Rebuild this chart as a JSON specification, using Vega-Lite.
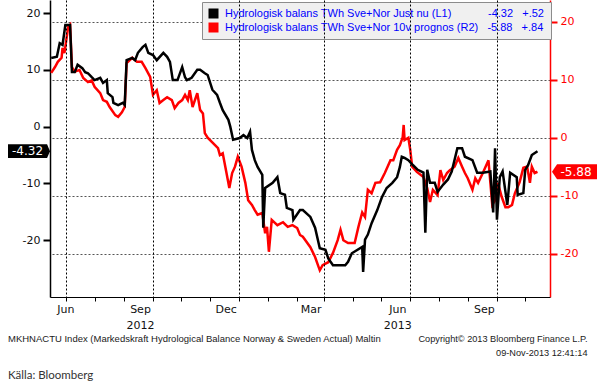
{
  "$schema": "https://vega.github.io/schema/vega-lite/v6.json",
  "width": 500,
  "height": 297,
  "autosize": {"type": "none"},
  "padding": {"left": 50, "top": 0, "right": 47, "bottom": 84},
  "background": "#ffffff",
  "title": {
    "text": "MKHNACTU Index (Markedskraft Hydrological Balance Norway & Sweden Actual) Maltin",
    "subtitle": "Källa: Bloomberg",
    "orient": "bottom",
    "anchor": "start",
    "frame": "group",
    "offset": -23,
    "dx": -42,
    "font": "Liberation Sans",
    "fontSize": 9.5,
    "fontWeight": "normal",
    "color": "#1a1a1a",
    "subtitleFont": "Lato",
    "subtitleFontSize": 11.5,
    "subtitleColor": "#333333",
    "subtitlePadding": 26
  },
  "datasets": {
    "lines": [
      {"date": "2012-05-16", "series": "L1", "value": 12.1},
      {"date": "2012-05-22", "series": "L1", "value": 12.3},
      {"date": "2012-05-25", "series": "L1", "value": 14.7},
      {"date": "2012-05-28", "series": "L1", "value": 14.4},
      {"date": "2012-05-31", "series": "L1", "value": 17.9},
      {"date": "2012-06-05", "series": "L1", "value": 17.9},
      {"date": "2012-06-07", "series": "L1", "value": 9.6},
      {"date": "2012-06-10", "series": "L1", "value": 9.6},
      {"date": "2012-06-13", "series": "L1", "value": 10.9},
      {"date": "2012-06-18", "series": "L1", "value": 10.3},
      {"date": "2012-06-21", "series": "L1", "value": 9.6},
      {"date": "2012-06-24", "series": "L1", "value": 9.4},
      {"date": "2012-06-28", "series": "L1", "value": 8.7},
      {"date": "2012-07-01", "series": "L1", "value": 8.2},
      {"date": "2012-07-07", "series": "L1", "value": 8.6},
      {"date": "2012-07-10", "series": "L1", "value": 7.7},
      {"date": "2012-07-14", "series": "L1", "value": 8.2},
      {"date": "2012-07-15", "series": "L1", "value": 5.9},
      {"date": "2012-07-20", "series": "L1", "value": 5.2},
      {"date": "2012-07-21", "series": "L1", "value": 4.2},
      {"date": "2012-07-26", "series": "L1", "value": 3.8},
      {"date": "2012-07-31", "series": "L1", "value": 4.2},
      {"date": "2012-08-02", "series": "L1", "value": 3.8},
      {"date": "2012-08-04", "series": "L1", "value": 11.7},
      {"date": "2012-08-10", "series": "L1", "value": 12.1},
      {"date": "2012-08-13", "series": "L1", "value": 11.7},
      {"date": "2012-08-16", "series": "L1", "value": 13.0},
      {"date": "2012-08-21", "series": "L1", "value": 14.0},
      {"date": "2012-08-24", "series": "L1", "value": 14.4},
      {"date": "2012-08-27", "series": "L1", "value": 13.0},
      {"date": "2012-09-01", "series": "L1", "value": 12.6},
      {"date": "2012-09-05", "series": "L1", "value": 11.7},
      {"date": "2012-09-12", "series": "L1", "value": 13.0},
      {"date": "2012-09-16", "series": "L1", "value": 12.3},
      {"date": "2012-09-19", "series": "L1", "value": 11.4},
      {"date": "2012-09-22", "series": "L1", "value": 8.2},
      {"date": "2012-09-27", "series": "L1", "value": 8.2},
      {"date": "2012-10-02", "series": "L1", "value": 10.5},
      {"date": "2012-10-05", "series": "L1", "value": 8.7},
      {"date": "2012-10-07", "series": "L1", "value": 8.2},
      {"date": "2012-10-12", "series": "L1", "value": 8.6},
      {"date": "2012-10-18", "series": "L1", "value": 10.0},
      {"date": "2012-10-21", "series": "L1", "value": 10.0},
      {"date": "2012-10-26", "series": "L1", "value": 9.4},
      {"date": "2012-10-29", "series": "L1", "value": 9.1},
      {"date": "2012-11-03", "series": "L1", "value": 6.5},
      {"date": "2012-11-08", "series": "L1", "value": 5.6},
      {"date": "2012-11-11", "series": "L1", "value": 4.2},
      {"date": "2012-11-14", "series": "L1", "value": 2.9},
      {"date": "2012-11-20", "series": "L1", "value": 1.2},
      {"date": "2012-11-22", "series": "L1", "value": 0.0},
      {"date": "2012-11-25", "series": "L1", "value": -2.3},
      {"date": "2012-12-02", "series": "L1", "value": -2.0},
      {"date": "2012-12-06", "series": "L1", "value": -1.5},
      {"date": "2012-12-10", "series": "L1", "value": -2.0},
      {"date": "2012-12-13", "series": "L1", "value": -0.9},
      {"date": "2012-12-15", "series": "L1", "value": -4.1},
      {"date": "2012-12-18", "series": "L1", "value": -5.9},
      {"date": "2012-12-21", "series": "L1", "value": -7.1},
      {"date": "2012-12-26", "series": "L1", "value": -8.5},
      {"date": "2012-12-27", "series": "L1", "value": -17.8},
      {"date": "2012-12-29", "series": "L1", "value": -10.8},
      {"date": "2013-01-06", "series": "L1", "value": -9.9},
      {"date": "2013-01-11", "series": "L1", "value": -8.9},
      {"date": "2013-01-14", "series": "L1", "value": -11.7},
      {"date": "2013-01-19", "series": "L1", "value": -12.0},
      {"date": "2013-01-21", "series": "L1", "value": -14.3},
      {"date": "2013-01-27", "series": "L1", "value": -14.7},
      {"date": "2013-01-28", "series": "L1", "value": -16.4},
      {"date": "2013-02-04", "series": "L1", "value": -14.7},
      {"date": "2013-02-07", "series": "L1", "value": -14.7},
      {"date": "2013-02-15", "series": "L1", "value": -15.9},
      {"date": "2013-02-20", "series": "L1", "value": -17.8},
      {"date": "2013-02-25", "series": "L1", "value": -21.4},
      {"date": "2013-03-03", "series": "L1", "value": -21.7},
      {"date": "2013-03-06", "series": "L1", "value": -23.2},
      {"date": "2013-03-11", "series": "L1", "value": -24.4},
      {"date": "2013-03-24", "series": "L1", "value": -24.4},
      {"date": "2013-03-27", "series": "L1", "value": -23.8},
      {"date": "2013-03-31", "series": "L1", "value": -22.3},
      {"date": "2013-04-11", "series": "L1", "value": -21.2},
      {"date": "2013-04-12", "series": "L1", "value": -25.6},
      {"date": "2013-04-14", "series": "L1", "value": -19.9},
      {"date": "2013-04-17", "series": "L1", "value": -19.0},
      {"date": "2013-04-21", "series": "L1", "value": -17.0},
      {"date": "2013-04-27", "series": "L1", "value": -14.7},
      {"date": "2013-05-02", "series": "L1", "value": -12.4},
      {"date": "2013-05-07", "series": "L1", "value": -10.8},
      {"date": "2013-05-13", "series": "L1", "value": -9.9},
      {"date": "2013-05-18", "series": "L1", "value": -8.9},
      {"date": "2013-05-21", "series": "L1", "value": -7.1},
      {"date": "2013-05-23", "series": "L1", "value": -5.3},
      {"date": "2013-05-26", "series": "L1", "value": -5.5},
      {"date": "2013-05-30", "series": "L1", "value": -5.9},
      {"date": "2013-06-04", "series": "L1", "value": -6.8},
      {"date": "2013-06-09", "series": "L1", "value": -7.6},
      {"date": "2013-06-15", "series": "L1", "value": -8.1},
      {"date": "2013-06-17", "series": "L1", "value": -18.7},
      {"date": "2013-06-19", "series": "L1", "value": -7.6},
      {"date": "2013-06-22", "series": "L1", "value": -9.9},
      {"date": "2013-06-27", "series": "L1", "value": -9.9},
      {"date": "2013-06-30", "series": "L1", "value": -11.5},
      {"date": "2013-07-06", "series": "L1", "value": -10.2},
      {"date": "2013-07-11", "series": "L1", "value": -9.3},
      {"date": "2013-07-15", "series": "L1", "value": -7.9},
      {"date": "2013-07-21", "series": "L1", "value": -3.8},
      {"date": "2013-07-26", "series": "L1", "value": -3.8},
      {"date": "2013-07-29", "series": "L1", "value": -5.3},
      {"date": "2013-08-06", "series": "L1", "value": -5.9},
      {"date": "2013-08-11", "series": "L1", "value": -8.1},
      {"date": "2013-08-17", "series": "L1", "value": -8.1},
      {"date": "2013-08-25", "series": "L1", "value": -7.9},
      {"date": "2013-08-28", "series": "L1", "value": -15.1},
      {"date": "2013-08-30", "series": "L1", "value": -3.8},
      {"date": "2013-09-01", "series": "L1", "value": -16.4},
      {"date": "2013-09-04", "series": "L1", "value": -8.9},
      {"date": "2013-09-07", "series": "L1", "value": -7.9},
      {"date": "2013-09-12", "series": "L1", "value": -13.8},
      {"date": "2013-09-15", "series": "L1", "value": -8.1},
      {"date": "2013-09-22", "series": "L1", "value": -8.9},
      {"date": "2013-09-23", "series": "L1", "value": -12.0},
      {"date": "2013-09-29", "series": "L1", "value": -11.7},
      {"date": "2013-10-01", "series": "L1", "value": -7.6},
      {"date": "2013-10-04", "series": "L1", "value": -6.8},
      {"date": "2013-10-08", "series": "L1", "value": -5.0},
      {"date": "2013-10-14", "series": "L1", "value": -4.32},
      {"date": "2012-05-16", "series": "R2", "value": 11.2},
      {"date": "2012-05-20", "series": "R2", "value": 12.2},
      {"date": "2012-05-23", "series": "R2", "value": 13.1},
      {"date": "2012-05-27", "series": "R2", "value": 13.8},
      {"date": "2012-05-28", "series": "R2", "value": 15.5},
      {"date": "2012-05-30", "series": "R2", "value": 14.6},
      {"date": "2012-06-03", "series": "R2", "value": 19.1},
      {"date": "2012-06-05", "series": "R2", "value": 19.5},
      {"date": "2012-06-07", "series": "R2", "value": 12.2},
      {"date": "2012-06-10", "series": "R2", "value": 11.4},
      {"date": "2012-06-15", "series": "R2", "value": 11.7},
      {"date": "2012-06-19", "series": "R2", "value": 10.3},
      {"date": "2012-06-24", "series": "R2", "value": 9.6},
      {"date": "2012-06-28", "series": "R2", "value": 9.9},
      {"date": "2012-07-01", "series": "R2", "value": 8.8},
      {"date": "2012-07-07", "series": "R2", "value": 7.7},
      {"date": "2012-07-10", "series": "R2", "value": 6.5},
      {"date": "2012-07-14", "series": "R2", "value": 6.2},
      {"date": "2012-07-17", "series": "R2", "value": 5.3},
      {"date": "2012-07-23", "series": "R2", "value": 3.9},
      {"date": "2012-07-26", "series": "R2", "value": 3.6},
      {"date": "2012-07-30", "series": "R2", "value": 4.4},
      {"date": "2012-08-02", "series": "R2", "value": 5.3},
      {"date": "2012-08-04", "series": "R2", "value": 12.9},
      {"date": "2012-08-10", "series": "R2", "value": 13.8},
      {"date": "2012-08-15", "series": "R2", "value": 13.1},
      {"date": "2012-08-20", "series": "R2", "value": 13.1},
      {"date": "2012-08-24", "series": "R2", "value": 12.0},
      {"date": "2012-08-29", "series": "R2", "value": 10.5},
      {"date": "2012-09-01", "series": "R2", "value": 7.4},
      {"date": "2012-09-05", "series": "R2", "value": 8.2},
      {"date": "2012-09-08", "series": "R2", "value": 6.0},
      {"date": "2012-09-12", "series": "R2", "value": 6.5},
      {"date": "2012-09-16", "series": "R2", "value": 7.0},
      {"date": "2012-09-21", "series": "R2", "value": 6.5},
      {"date": "2012-09-24", "series": "R2", "value": 5.1},
      {"date": "2012-09-28", "series": "R2", "value": 6.0},
      {"date": "2012-10-02", "series": "R2", "value": 6.5},
      {"date": "2012-10-05", "series": "R2", "value": 7.4},
      {"date": "2012-10-08", "series": "R2", "value": 6.5},
      {"date": "2012-10-10", "series": "R2", "value": 8.2},
      {"date": "2012-10-13", "series": "R2", "value": 5.3},
      {"date": "2012-10-18", "series": "R2", "value": 7.7},
      {"date": "2012-10-21", "series": "R2", "value": 4.8},
      {"date": "2012-10-24", "series": "R2", "value": 4.2},
      {"date": "2012-10-26", "series": "R2", "value": 0.8},
      {"date": "2012-10-29", "series": "R2", "value": 0.0},
      {"date": "2012-11-04", "series": "R2", "value": -1.0},
      {"date": "2012-11-09", "series": "R2", "value": -1.8},
      {"date": "2012-11-11", "series": "R2", "value": -3.0},
      {"date": "2012-11-14", "series": "R2", "value": -2.7},
      {"date": "2012-11-18", "series": "R2", "value": -6.1},
      {"date": "2012-11-21", "series": "R2", "value": -8.7},
      {"date": "2012-11-24", "series": "R2", "value": -6.1},
      {"date": "2012-11-27", "series": "R2", "value": -5.0},
      {"date": "2012-11-30", "series": "R2", "value": -3.3},
      {"date": "2012-12-04", "series": "R2", "value": -5.0},
      {"date": "2012-12-08", "series": "R2", "value": -7.8},
      {"date": "2012-12-11", "series": "R2", "value": -10.8},
      {"date": "2012-12-15", "series": "R2", "value": -11.6},
      {"date": "2012-12-18", "series": "R2", "value": -12.5},
      {"date": "2012-12-21", "series": "R2", "value": -13.3},
      {"date": "2012-12-26", "series": "R2", "value": -13.0},
      {"date": "2012-12-29", "series": "R2", "value": -16.5},
      {"date": "2012-12-31", "series": "R2", "value": -15.4},
      {"date": "2013-01-02", "series": "R2", "value": -19.7},
      {"date": "2013-01-05", "series": "R2", "value": -14.2},
      {"date": "2013-01-11", "series": "R2", "value": -15.1},
      {"date": "2013-01-17", "series": "R2", "value": -14.6},
      {"date": "2013-01-22", "series": "R2", "value": -15.4},
      {"date": "2013-01-27", "series": "R2", "value": -15.1},
      {"date": "2013-02-01", "series": "R2", "value": -15.6},
      {"date": "2013-02-04", "series": "R2", "value": -16.8},
      {"date": "2013-02-07", "series": "R2", "value": -17.1},
      {"date": "2013-02-15", "series": "R2", "value": -18.9},
      {"date": "2013-02-20", "series": "R2", "value": -20.6},
      {"date": "2013-02-25", "series": "R2", "value": -22.9},
      {"date": "2013-02-28", "series": "R2", "value": -22.0},
      {"date": "2013-03-06", "series": "R2", "value": -21.5},
      {"date": "2013-03-11", "series": "R2", "value": -19.9},
      {"date": "2013-03-16", "series": "R2", "value": -17.7},
      {"date": "2013-03-19", "series": "R2", "value": -15.9},
      {"date": "2013-03-22", "series": "R2", "value": -17.7},
      {"date": "2013-03-27", "series": "R2", "value": -18.2},
      {"date": "2013-04-03", "series": "R2", "value": -18.2},
      {"date": "2013-04-07", "series": "R2", "value": -15.4},
      {"date": "2013-04-11", "series": "R2", "value": -12.9},
      {"date": "2013-04-14", "series": "R2", "value": -13.7},
      {"date": "2013-04-17", "series": "R2", "value": -9.0},
      {"date": "2013-04-21", "series": "R2", "value": -9.6},
      {"date": "2013-04-25", "series": "R2", "value": -7.8},
      {"date": "2013-04-30", "series": "R2", "value": -7.7},
      {"date": "2013-05-05", "series": "R2", "value": -6.1},
      {"date": "2013-05-11", "series": "R2", "value": -3.9},
      {"date": "2013-05-14", "series": "R2", "value": -3.9},
      {"date": "2013-05-18", "series": "R2", "value": -2.1},
      {"date": "2013-05-21", "series": "R2", "value": -1.3},
      {"date": "2013-05-24", "series": "R2", "value": 0.1},
      {"date": "2013-05-25", "series": "R2", "value": 2.2},
      {"date": "2013-05-26", "series": "R2", "value": -0.4},
      {"date": "2013-05-30", "series": "R2", "value": 0.0},
      {"date": "2013-06-01", "series": "R2", "value": -2.1},
      {"date": "2013-06-03", "series": "R2", "value": -5.0},
      {"date": "2013-06-08", "series": "R2", "value": -5.9},
      {"date": "2013-06-15", "series": "R2", "value": -6.8},
      {"date": "2013-06-19", "series": "R2", "value": -8.7},
      {"date": "2013-06-22", "series": "R2", "value": -11.1},
      {"date": "2013-06-25", "series": "R2", "value": -9.0},
      {"date": "2013-06-30", "series": "R2", "value": -9.9},
      {"date": "2013-07-03", "series": "R2", "value": -5.6},
      {"date": "2013-07-06", "series": "R2", "value": -7.3},
      {"date": "2013-07-10", "series": "R2", "value": -6.1},
      {"date": "2013-07-13", "series": "R2", "value": -5.6},
      {"date": "2013-07-18", "series": "R2", "value": -5.0},
      {"date": "2013-07-22", "series": "R2", "value": -3.5},
      {"date": "2013-07-26", "series": "R2", "value": -5.0},
      {"date": "2013-07-29", "series": "R2", "value": -6.1},
      {"date": "2013-08-01", "series": "R2", "value": -7.0},
      {"date": "2013-08-06", "series": "R2", "value": -9.0},
      {"date": "2013-08-09", "series": "R2", "value": -7.0},
      {"date": "2013-08-12", "series": "R2", "value": -7.8},
      {"date": "2013-08-17", "series": "R2", "value": -6.1},
      {"date": "2013-08-23", "series": "R2", "value": -3.9},
      {"date": "2013-08-27", "series": "R2", "value": -11.6},
      {"date": "2013-08-30", "series": "R2", "value": -10.8},
      {"date": "2013-09-02", "series": "R2", "value": -7.8},
      {"date": "2013-09-06", "series": "R2", "value": -10.2},
      {"date": "2013-09-10", "series": "R2", "value": -12.0},
      {"date": "2013-09-13", "series": "R2", "value": -12.0},
      {"date": "2013-09-17", "series": "R2", "value": -11.6},
      {"date": "2013-09-20", "series": "R2", "value": -9.6},
      {"date": "2013-09-25", "series": "R2", "value": -7.7},
      {"date": "2013-09-29", "series": "R2", "value": -5.2},
      {"date": "2013-10-03", "series": "R2", "value": -5.0},
      {"date": "2013-10-06", "series": "R2", "value": -7.8},
      {"date": "2013-10-08", "series": "R2", "value": -5.0},
      {"date": "2013-10-11", "series": "R2", "value": -6.1},
      {"date": "2013-10-14", "series": "R2", "value": -5.88}
    ],
    "tags": [
      {"series": "L1", "value": -4.32, "label": "-4.32"},
      {"series": "R2", "value": -5.88, "label": "-5.88"}
    ]
  },
  "layer": [
    {
      "layer": [
        {
          "data": {"name": "lines"},
          "transform": [{"filter": "datum.series == 'R2'"}],
          "mark": {"type": "line", "strokeWidth": 2.5},
          "encoding": {
            "x": {
              "field": "date", "type": "temporal",
              "scale": {"type": "utc", "domain": [{"year": 2012, "month": 5, "date": 14, "hours": 17, "utc": true}, {"year": 2013, "month": 10, "date": 27, "hours": 7, "utc": true}]},
              "axis": {
                "title": ["Copyright\u00a9 2013 Bloomberg Finance L.P.", "09-Nov-2013 12:41:14"],
                "titleFont": "Liberation Sans", "titleFontSize": 9.2, "titleFontWeight": "normal", "titleColor": "#1a1a1a",
                "titleAlign": "right", "titleAnchor": "end", "titleBaseline": "top", "titleX": 537, "titleY": 37, "titleLineHeight": 14,
                "tickCount": {"interval": "month", "step": 1},
                "labelExpr": "utcmonth(datum.value) == 8 && utcyear(datum.value) == 2012 ? ['Sep', '2012'] : (utcmonth(datum.value) == 5 && utcyear(datum.value) == 2013 ? ['Jun', '2013'] : (indexof([2, 5, 8, 11], utcmonth(datum.value)) >= 0 ? utcFormat(datum.value, '%b') : ''))",
                "labelFont": "DejaVu Sans", "labelFontSize": 11, "labelColor": "#111111",
                "labelAlign": "center", "labelBaseline": "top", "labelPadding": 2, "labelLineHeight": 16,
                "labelOffset": {"condition": {"test": "utcyear(datum.value) == 2012 && utcmonth(datum.value) == 5", "value": -1}, "value": -13},
                "labelOverlap": false, "labelFlush": false, "labelBound": false,
                "tickSize": 4, "tickColor": "#000000", "domainColor": "#000000", "domainWidth": 1,
                "grid": true, "gridColor": "#000000", "gridDash": [2, 2], "gridWidth": 1,
                "gridOpacity": {"condition": {"test": "indexof([2, 5, 8, 11], utcmonth(datum.value)) >= 0", "value": 1}, "value": 0},
                "zindex": 1
              }
            },
            "y": {
              "field": "value", "type": "quantitative",
              "scale": {"domain": [-27.51, 23.78], "nice": false, "zero": false},
              "axis": {
                "orient": "right", "title": null,
                "values": [-20, -10, 0, 10, 20],
                "format": "d",
                "labelColor": "#ff0000", "labelFont": "DejaVu Sans", "labelFontSize": 11, "labelPadding": 3,
                "tickColor": "#ff0000", "tickSize": 7, "tickWidth": 2,
                "domainColor": "#ff0000", "domainWidth": 1.5,
                "grid": true, "gridColor": "#555555", "gridDash": [2, 2], "gridWidth": 1
              }
            },
            "color": {
              "field": "series", "type": "nominal",
              "scale": {"domain": ["L1", "R2"], "range": ["#000000", "#ff0000"]},
              "legend": {
                "orient": "none", "legendX": 152, "legendY": 2, "title": null, "direction": "vertical",
                "fillColor": "#f0f0f0", "strokeColor": "#8c8c8c", "padding": 6,
                "symbolType": "square", "symbolSize": 16, "symbolStrokeWidth": 6,
                "labelFont": "Liberation Sans", "labelFontSize": 11, "labelColor": "#0000ff", "labelLimit": 600,
                "labelOffset": 6, "rowPadding": 2, "clipHeight": 11,
                "labelExpr": "datum.label == 'L1' ? 'Hydrologisk balans TWh Sve+Nor Just nu (L1)\u00a0\u00a0\u00a0\u00a0\u00a0\u00a0\u00a0\u00a0\u00a0\u00a0\u00a0\u00a0-4.32\u00a0\u00a0\u00a0+.52' : 'Hydrologisk balans TWh Sve+Nor 10v prognos (R2)\u00a0\u00a0\u00a0-5.88\u00a0\u00a0\u00a0+.84'"
              }
            }
          }
        },
        {
          "data": {"name": "tags"},
          "transform": [{"filter": "datum.series == 'R2'"}],
          "mark": {"type": "point", "shape": "M0,0L0.24,-0.36L2.3,-0.36L2.3,0.36L0.24,0.36Z", "size": 1764, "filled": true, "color": "#ff0000", "opacity": 1, "xOffset": 2},
          "encoding": {
            "x": {"datum": {"year": 2013, "month": 10, "date": 27, "hours": 7, "utc": true}, "type": "temporal", "scale": {"type": "utc", "domain": [{"year": 2012, "month": 5, "date": 14, "hours": 17, "utc": true}, {"year": 2013, "month": 10, "date": 27, "hours": 7, "utc": true}]}},
            "y": {"field": "value", "type": "quantitative", "scale": {"domain": [-27.51, 23.78], "nice": false, "zero": false}}
          }
        },
        {
          "data": {"name": "tags"},
          "transform": [{"filter": "datum.series == 'R2'"}],
          "mark": {"type": "text", "color": "#ffffff", "font": "DejaVu Sans", "fontSize": 12, "align": "center", "baseline": "middle", "dx": 26},
          "encoding": {
            "x": {"datum": {"year": 2013, "month": 10, "date": 27, "hours": 7, "utc": true}, "type": "temporal", "scale": {"type": "utc", "domain": [{"year": 2012, "month": 5, "date": 14, "hours": 17, "utc": true}, {"year": 2013, "month": 10, "date": 27, "hours": 7, "utc": true}]}},
            "y": {"field": "value", "type": "quantitative", "scale": {"domain": [-27.51, 23.78], "nice": false, "zero": false}},
            "text": {"field": "label"}
          }
        }
      ]
    },
    {
      "layer": [
        {
          "data": {"name": "lines"},
          "transform": [{"filter": "datum.series == 'L1'"}],
          "mark": {"type": "line", "strokeWidth": 2.5},
          "encoding": {
            "x": {"field": "date", "type": "temporal", "scale": {"type": "utc", "domain": [{"year": 2012, "month": 5, "date": 14, "hours": 17, "utc": true}, {"year": 2013, "month": 10, "date": 27, "hours": 7, "utc": true}]}},
            "y": {
              "field": "value", "type": "quantitative",
              "scale": {"domain": [-30, 22.3], "nice": false, "zero": false},
              "axis": {
                "orient": "left", "title": null,
                "values": [-20, -10, 0, 10, 20],
                "format": "d",
                "labelColor": "#111111", "labelFont": "DejaVu Sans", "labelFontSize": 11, "labelPadding": 3,
                "tickColor": "#000000", "tickSize": 7, "tickWidth": 2,
                "domainColor": "#000000", "domainWidth": 1.5,
                "grid": false
              }
            },
            "color": {
              "field": "series", "type": "nominal",
              "scale": {"domain": ["L1", "R2"], "range": ["#000000", "#ff0000"]}
            }
          }
        },
        {
          "data": {"name": "tags"},
          "transform": [{"filter": "datum.series == 'L1'"}],
          "mark": {"type": "point", "shape": "M0,0L-0.14,-0.33L-2,-0.33L-2,0.33L-0.14,0.33Z", "size": 1764, "filled": true, "color": "#000000", "opacity": 1},
          "encoding": {
            "x": {"datum": {"year": 2012, "month": 5, "date": 14, "hours": 17, "utc": true}, "type": "temporal", "scale": {"type": "utc", "domain": [{"year": 2012, "month": 5, "date": 14, "hours": 17, "utc": true}, {"year": 2013, "month": 10, "date": 27, "hours": 7, "utc": true}]}},
            "y": {"field": "value", "type": "quantitative", "scale": {"domain": [-30, 22.3], "nice": false, "zero": false}}
          }
        },
        {
          "data": {"name": "tags"},
          "transform": [{"filter": "datum.series == 'L1'"}],
          "mark": {"type": "text", "color": "#ffffff", "font": "DejaVu Sans", "fontSize": 12, "align": "center", "baseline": "middle", "dx": -22.5},
          "encoding": {
            "x": {"datum": {"year": 2012, "month": 5, "date": 14, "hours": 17, "utc": true}, "type": "temporal", "scale": {"type": "utc", "domain": [{"year": 2012, "month": 5, "date": 14, "hours": 17, "utc": true}, {"year": 2013, "month": 10, "date": 27, "hours": 7, "utc": true}]}},
            "y": {"field": "value", "type": "quantitative", "scale": {"domain": [-30, 22.3], "nice": false, "zero": false}},
            "text": {"field": "label"}
          }
        }
      ]
    }
  ],
  "resolve": {"scale": {"y": "independent"}, "axis": {"y": "independent"}},
  "config": {"view": {"stroke": null}, "locale": {"number": {"decimal": ".", "thousands": ",", "grouping": [3], "currency": ["", ""], "minus": "-"}}}
}
